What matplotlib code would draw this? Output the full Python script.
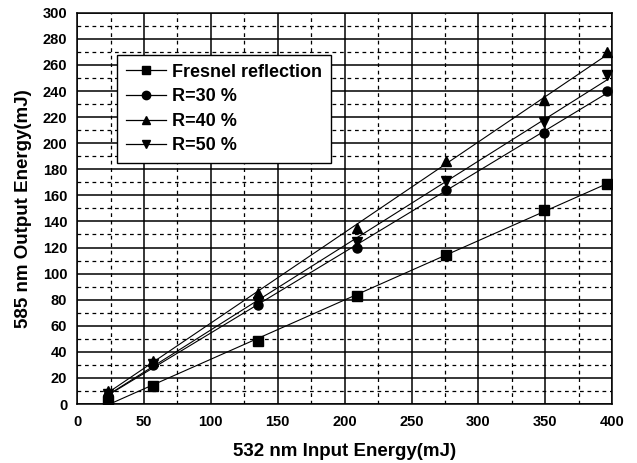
import numpy as np
import matplotlib
matplotlib.use("Agg")
import matplotlib.pyplot as plt
from matplotlib.ticker import MultipleLocator

plt.rcParams['font.family'] = ['Liberation Sans', 'DejaVu Sans']

x_input = [23, 57, 135, 209, 276, 349, 396]
fresnel = [2, 14, 48, 83, 114, 149, 169]
r30 = [6, 30, 76, 120, 164, 208, 240]
r40 = [10, 33, 85, 135, 186, 233, 270]
r50 = [8, 31, 78, 124, 171, 216, 252]

series = [
    ("Fresnel reflection", fresnel, "s"),
    ("R=30 %", r30, "o"),
    ("R=40 %", r40, "^"),
    ("R=50 %", r50, "v"),
]

fig = plt.figure(figsize=(6.37, 4.63), dpi=100)
ax = fig.add_axes([0.121, 0.1274, 0.840, 0.845])

x = np.array(x_input, dtype=float)
for label, ys, m in series:
    k, b = np.polyfit(x, np.array(ys, dtype=float), 1)
    xl = np.array([x.min(), x.max()])
    ax.plot(xl, k * xl + b, color='black', lw=0.8, zorder=3)
    ax.plot(x, ys, linestyle='none', marker=m, color='black', markersize=6.5, zorder=4)
    ax.plot([], [], color='black', lw=0.9, marker=m, markersize=6, label=label)

ax.set_xlim(0, 400)
ax.set_ylim(0, 300)
ax.xaxis.set_major_locator(MultipleLocator(50))
ax.xaxis.set_minor_locator(MultipleLocator(25))
ax.yaxis.set_major_locator(MultipleLocator(20))
ax.yaxis.set_minor_locator(MultipleLocator(10))
ax.grid(which='major', color='black', lw=1.1, ls='-', zorder=1)
ax.grid(which='minor', color='black', lw=0.9, ls=(0, (3, 3)), zorder=1)
ax.set_axisbelow(True)
ax.tick_params(which='both', length=0, labelsize=10.5)
ax.tick_params(axis='y', pad=7)
ax.tick_params(axis='x', pad=8)
for lab in ax.get_xticklabels() + ax.get_yticklabels():
    lab.set_fontweight('bold')
for s in ax.spines.values():
    s.set_linewidth(1.1)

ax.set_xlabel("532 nm Input Energy(mJ)", fontsize=13.5, fontweight='bold', labelpad=10)
ax.set_ylabel("585 nm Output Energy(mJ)", fontsize=13.5, fontweight='bold', labelpad=8)

leg = ax.legend(loc='upper left', bbox_to_anchor=(0.075, 0.893), frameon=True,
                fancybox=False, edgecolor='black', framealpha=1, borderaxespad=0,
                prop={'weight': 'bold', 'size': 13}, handlelength=2.2,
                labelspacing=0.42, borderpad=0.5, handletextpad=0.35)
leg.get_frame().set_linewidth(1.0)
leg.set_zorder(5)

fig.savefig("out.png", dpi=100, facecolor='white')
